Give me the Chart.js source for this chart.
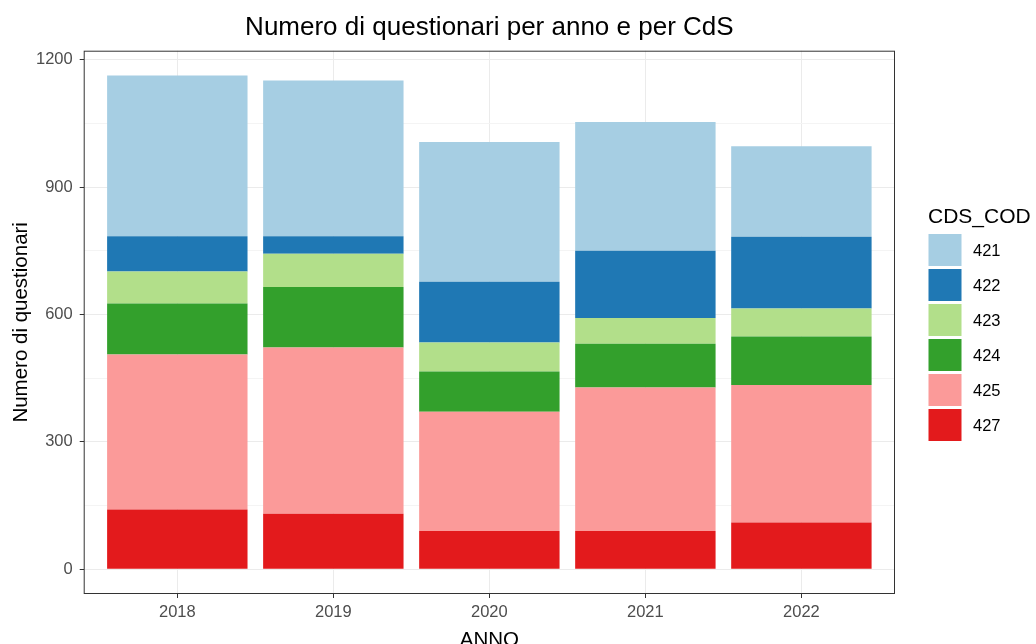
<!DOCTYPE html>
<html>
  <head>
    <title>Numero di questionari</title>
    <script src="https://cdn.jsdelivr.net/npm/chart.js"></script>
    <style>
      body {
        margin: 0;
        overflow: hidden;
        background: white;
      }
      #box {
        width: 1036px;
        height: 660px;
      }
    </style>
  </head>
  <body>
    <div id="box"><canvas id="bars"></canvas></div>

    <script>
      // data
      var years = [2018, 2019, 2020, 2021, 2022];
      var cdsCodes = ["421", "422", "423", "424", "425", "427"];
      var cds421 = [379, 367, 329, 303, 213];
      var cds422 = [83, 41, 143, 158, 169];
      var cds423 = [75, 78, 68, 61, 66];
      var cds424 = [120, 143, 95, 103, 114];
      var cds425 = [365, 391, 281, 338, 324];
      var cds427 = [141, 131, 90, 90, 110];
      var yTicks = [0, 300, 600, 900, 1200];

      var colors = ["#A6CEE3", "#1F78B4", "#B2DF8A", "#33A02C", "#FB9A99", "#E31A1C"];
      var series = [cds421, cds422, cds423, cds424, cds425, cds427];

      var FONT = "'Liberation Sans', Arial, sans-serif";
      Chart.defaults.font.family = FONT;

      // chart.js stacks in dataset order, so bottom (427) goes first
      var datasets = [];
      for (var i = series.length - 1; i >= 0; i--) {
        datasets.push({
          label: cdsCodes[i],
          data: series[i],
          backgroundColor: colors[i],
          borderWidth: 0,
          barPercentage: 0.9,
          categoryPercentage: 1,
        });
      }

      var totals = years.map(function (y, j) {
        return series.reduce(function (s, arr) {
          return s + arr[j];
        }, 0);
      });
      var topVal = Math.max.apply(null, totals);

      // ggplot-ish panel border + legend on the right
      var panelBorder = {
        id: "panelBorder",
        afterDraw: function (chart) {
          var ctx = chart.ctx;
          var a = chart.chartArea;
          ctx.save();
          ctx.strokeStyle = "#333333";
          ctx.lineWidth = 1;
          ctx.strokeRect(a.left + 0.5, a.top + 0.5, a.right - a.left - 1, a.bottom - a.top - 1);
          ctx.restore();
        },
      };

      var sideLegend = {
        id: "sideLegend",
        afterDraw: function (chart) {
          var ctx = chart.ctx;
          var x0 = chart.chartArea.right + 33;
          ctx.save();
          ctx.fillStyle = "#000";
          ctx.font = "21px " + FONT;
          ctx.textBaseline = "alphabetic";
          ctx.textAlign = "left";
          ctx.fillText("CDS_COD", x0, 223);
          ctx.font = "16.5px " + FONT;
          ctx.textBaseline = "middle";
          var ds = chart.data.datasets.slice().reverse();
          ds.forEach(function (d, k) {
            var y = 234 + k * 35;
            ctx.fillStyle = d.backgroundColor;
            ctx.fillRect(x0 + 0.5, y, 33, 32);
            ctx.fillStyle = "#000";
            ctx.fillText(d.label, x0 + 45, y + 17);
          });
          ctx.restore();
        },
      };

      var ctx = document.getElementById("bars").getContext("2d");
      var myChart = new Chart(ctx, {
        type: "bar",
        data: {
          labels: years,
          datasets: datasets,
        },
        options: {
          responsive: true,
          maintainAspectRatio: false,
          animation: false,
          layout: {
            padding: { left: 0, right: 141, top: 0, bottom: 3.6 },
          },
          scales: {
            x: {
              type: "linear",
              stacked: true,
              offset: false,
              min: years[0] - 0.6,
              max: years[years.length - 1] + 0.6,
              border: { display: false },
              grid: {
                offset: false,
                color: "#ebebeb",
                tickColor: "#333333",
                tickLength: 4,
              },
              ticks: {
                stepSize: 1,
                includeBounds: false,
                padding: 5,
                color: "#4d4d4d",
                font: { size: 16.5 },
                callback: function (v) {
                  return String(v);
                },
              },
              title: {
                display: true,
                text: "ANNO",
                color: "#000",
                font: { size: 20.5 },
                padding: { top: 0, bottom: 4 },
              },
            },
            y: {
              stacked: true,
              min: -0.05 * topVal,
              max: 1.05 * topVal,
              border: { display: false },
              grid: {
                color: function (c) {
                  return c.tick && yTicks.indexOf(c.tick.value) >= 0 ? "#ebebeb" : "#f4f4f4";
                },
                tickColor: function (c) {
                  return c.tick && yTicks.indexOf(c.tick.value) >= 0 ? "#333333" : "rgba(0,0,0,0)";
                },
                tickLength: 4,
              },
              ticks: {
                stepSize: 150,
                includeBounds: false,
                padding: 7,
                color: "#4d4d4d",
                font: { size: 16.5 },
                callback: function (v) {
                  return yTicks.indexOf(v) >= 0 ? String(v) : "";
                },
              },
              title: {
                display: true,
                text: "Numero di questionari",
                color: "#000",
                font: { size: 20.5 },
                padding: { top: 8.6, bottom: -4.2 },
              },
            },
          },
          plugins: {
            legend: { display: false },
            tooltip: { enabled: false },
            title: {
              display: true,
              fullSize: false,
              text: "Numero di questionari per anno e per CdS",
              color: "#000",
              font: { size: 26, weight: "normal" },
              padding: { top: 12.2, bottom: 7.3 },
            },
          },
        },
        plugins: [panelBorder, sideLegend],
      });
    </script>
  </body>
</html>
